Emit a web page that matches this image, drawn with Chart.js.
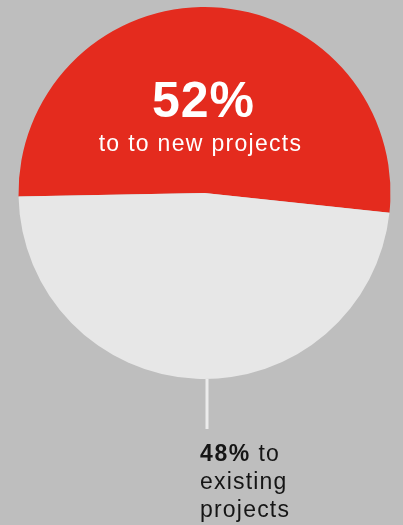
<!DOCTYPE html>
<html>
<head>
<meta charset="utf-8">
<script src="https://cdn.jsdelivr.net/npm/chart.js@4"></script>
<style>
  html, body { margin: 0; padding: 0; background: #bebebe; }
  #wrap { position: relative; width: 403px; height: 525px; font-family: "Liberation Sans", Arial, sans-serif; }
  #myPieChart { position: absolute; left: 0; top: 0; }
  .big { position: absolute; left: 0; width: 407px; top: 75px; text-align: center; color: #fff; font-weight: bold; font-size: 50px; line-height: 50px; letter-spacing: 1px; }
  .sub { position: absolute; left: 0; width: 401px; top: 132px; text-align: center; color: #fff; font-size: 23px; line-height: 23px; letter-spacing: 1.3px; }
  .note { position: absolute; left: 200px; top: 439px; color: #151515; font-size: 23px; line-height: 28px; letter-spacing: 1.2px; }
  .note b { letter-spacing: 1.6px; }
</style>
</head>
<body>
<div id="wrap">
  <canvas id="myPieChart" width="403" height="525"></canvas>
  <div class="big" id="bigLabel"></div>
  <div class="sub" id="subLabel"></div>
  <div class="note" id="noteLabel"></div>
</div>
<script>
// chart data
const labels = ["to new projects", "to existing projects"];
const shares = [52, 48];
const sliceColors = ["#e42b1e", "#e7e7e7"];

document.getElementById("bigLabel").textContent = shares[0] + "%";
document.getElementById("subLabel").textContent = "to " + labels[0];
document.getElementById("noteLabel").innerHTML =
  "<b>" + shares[1] + "%</b> to<br>existing<br>projects";

// thin leader line under the grey slice
const leaderLine = {
  id: "leaderLine",
  afterDraw(chart) {
    const arc = chart.getDatasetMeta(0).data[1];
    const ctx = chart.ctx;
    const x = arc.x + 2.5;
    ctx.save();
    ctx.strokeStyle = "#ececec";
    ctx.lineWidth = 3;
    ctx.beginPath();
    ctx.moveTo(x, arc.y + arc.outerRadius);
    ctx.lineTo(x, arc.y + arc.outerRadius + 50);
    ctx.stroke();
    ctx.restore();
  }
};

const ctx = document.getElementById("myPieChart").getContext("2d");
const myPieChart = new Chart(ctx, {
  type: "pie",
  data: {
    labels: labels,
    datasets: [{
      data: shares,
      backgroundColor: sliceColors,
      borderWidth: 0,
    }],
  },
  options: {
    responsive: false,
    animation: false,
    rotation: -91.1,
    layout: { padding: { left: 18, right: 12, top: 7, bottom: 146 } },
    plugins: {
      legend: { display: false },
      tooltip: { enabled: false },
    },
  },
  plugins: [leaderLine],
});
</script>
</body>
</html>
